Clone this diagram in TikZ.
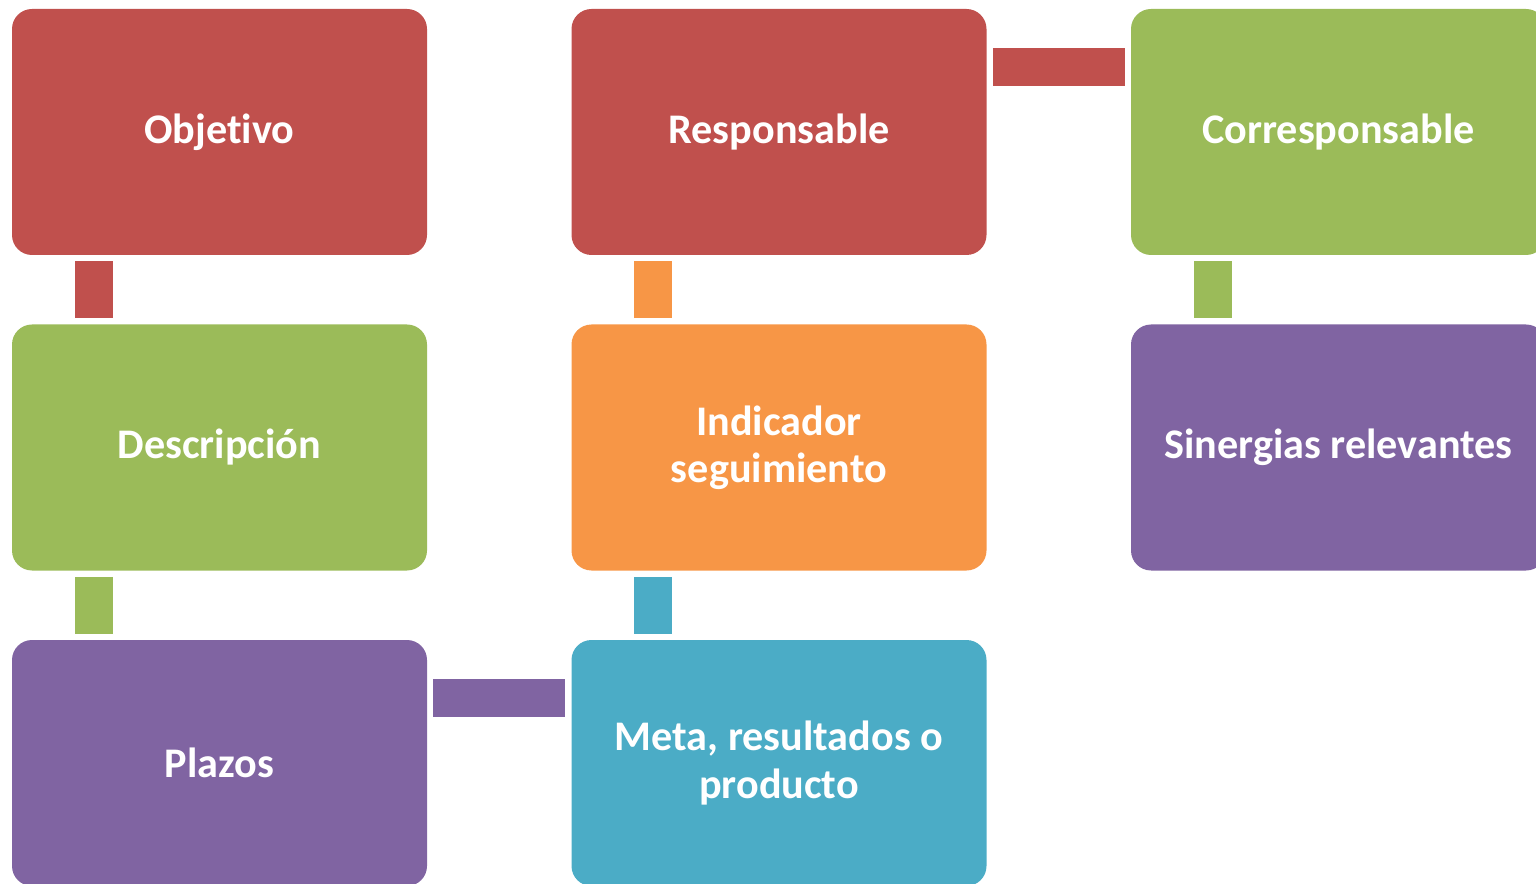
\documentclass[tikz,border=0pt]{standalone}
\usepackage{fontspec}
\setmainfont{Carlito}[Ligatures=NoCommon]
\definecolor{cred}{HTML}{C0504D}
\definecolor{cgreen}{HTML}{9BBB59}
\definecolor{cpurple}{HTML}{8064A2}
\definecolor{corange}{HTML}{F79646}
\definecolor{cblue}{HTML}{4BACC6}

\begin{document}
\begin{tikzpicture}
\tikzstyle{box}=[rectangle,rounded corners=0.5cm,minimum width=10.375cm,minimum height=6.15cm,inner sep=0pt,text=white,align=center,font=\fontsize{30}{33.5}\selectfont\bfseries];
\tikzstyle{link}=[line width=0.95cm,shorten <=0.15cm,shorten >=0.15cm];

\useasboundingbox (0,0) rectangle (38.4,22.075);
\clip (0,0) rectangle (38.4,22.075);

\node [box,fill=cred] (obj) at (5.4875,18.775) {Objetivo};
\node [box,fill=cgreen] (des) at (5.4875,10.8875) {Descripción};
\node [box,fill=cpurple] (pla) at (5.4875,3.0) {Plazos};
\node [box,fill=cblue] (met) at (19.475,3.0) {Meta, resultados o\\producto};
\node [box,fill=corange] (ind) at (19.475,10.8875) {Indicador\\seguimiento};
\node [box,fill=cred] (res) at (19.475,18.775) {Responsable};
\node [box,fill=cgreen] (cor) at (33.4625,18.775) {Corresponsable};
\node [box,fill=cpurple] (sin) at (33.4625,10.8875) {Sinergias relevantes};

\draw [link,cred] ([xshift=2.05cm]obj.south west) -- ([xshift=2.05cm]des.north west);
\draw [link,cgreen] ([xshift=2.05cm]des.south west) -- ([xshift=2.05cm]pla.north west);
\draw [link,cpurple] ([yshift=-1.45cm]pla.north east) -- ([yshift=-1.45cm]met.north west);
\draw [link,cblue] ([xshift=2.05cm]met.north west) -- ([xshift=2.05cm]ind.south west);
\draw [link,corange] ([xshift=2.05cm]ind.north west) -- ([xshift=2.05cm]res.south west);
\draw [link,cred] ([yshift=-1.45cm]res.north east) -- ([yshift=-1.45cm]cor.north west);
\draw [link,cgreen] ([xshift=2.05cm]cor.south west) -- ([xshift=2.05cm]sin.north west);
\end{tikzpicture}
\end{document}
